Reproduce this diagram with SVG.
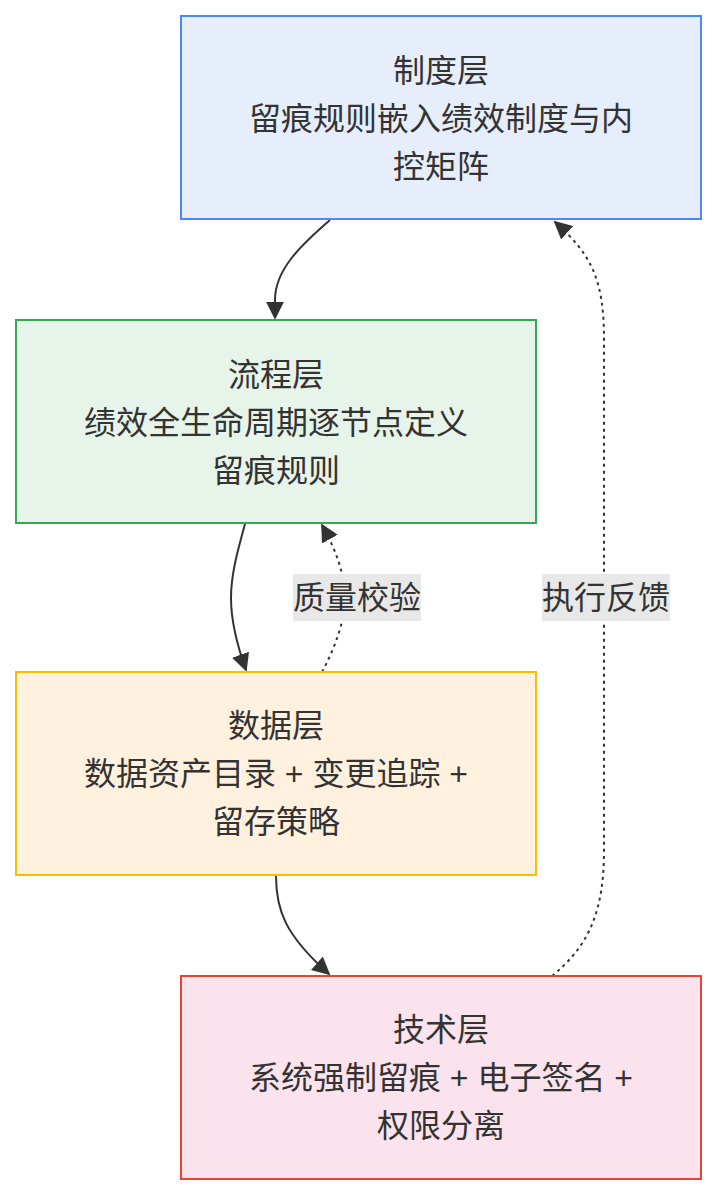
<svg xmlns="http://www.w3.org/2000/svg" width="717" height="1196" viewBox="0 0 717 1196">
<style>
text{font-family:"Liberation Sans","Noto Sans CJK SC",sans-serif;font-size:32px;fill:#333;text-anchor:middle;dominant-baseline:central}
.node rect{stroke-width:2}
.edge{fill:none;stroke:#333;stroke-width:2}
.dash{stroke-dasharray:3 4}
.lbg{fill:#e8e8e8}
</style>
<defs>
<marker id="ah" viewBox="0 0 10 10" refX="9" refY="5" markerWidth="18" markerHeight="18" markerUnits="userSpaceOnUse" orient="auto">
<path d="M0,0 L10,5 L0,10 Z" fill="#333"/>
</marker>
</defs>
<rect width="717" height="1196" fill="#fff"/>
<g id="connectors">
<path class="edge" d="M330,220 C300,246 275,270 275,300 L275,318" marker-end="url(#ah)"/>
<path class="edge" d="M245,524 C237,553 231,575 231,598 C231,620 237,645 246,670" marker-end="url(#ah)"/>
<path class="edge dash" d="M322,672 C335,648 345,620 345,598 C345,575 336,550 322,525" marker-end="url(#ah)"/>
<path class="edge" d="M276,876 C276,910 285,935 329,974" marker-end="url(#ah)"/>
<path class="edge dash" d="M552,976 C590,945 604,910 604,850 L604,340 C604,280 592,255 555,222" marker-end="url(#ah)"/>
<g id="label-quality">
<rect class="lbg" x="293" y="574" width="128" height="47"/>
<text x="357" y="598">质量校验</text>
</g>
<g id="label-feedback">
<rect class="lbg" x="542" y="574" width="128" height="47"/>
<text x="606" y="598">执行反馈</text>
</g>
</g>
<g id="node-system" class="node">
<rect x="181" y="16" width="520" height="203" fill="#e7eefb" stroke="#4a8af4"/>
<text x="441" y="71">制度层</text>
<text x="441" y="119">留痕规则嵌入绩效制度与内</text>
<text x="441" y="167">控矩阵</text>
</g>
<g id="node-process" class="node">
<rect x="16" y="320" width="520" height="203" fill="#e6f4e9" stroke="#34a853"/>
<text x="276" y="375">流程层</text>
<text x="276" y="423">绩效全生命周期逐节点定义</text>
<text x="276" y="471">留痕规则</text>
</g>
<g id="node-data" class="node">
<rect x="16" y="672" width="520" height="203" fill="#fff1de" stroke="#fbbc04"/>
<text x="276" y="726">数据层</text>
<text x="276" y="774">数据资产目录 + 变更追踪 +</text>
<text x="276" y="822">留存策略</text>
</g>
<g id="node-tech" class="node">
<rect x="181" y="976" width="520" height="203" fill="#fae3ec" stroke="#ea4335"/>
<text x="441" y="1030">技术层</text>
<text x="441" y="1078">系统强制留痕 + 电子签名 +</text>
<text x="441" y="1126">权限分离</text>
</g>
</svg>
